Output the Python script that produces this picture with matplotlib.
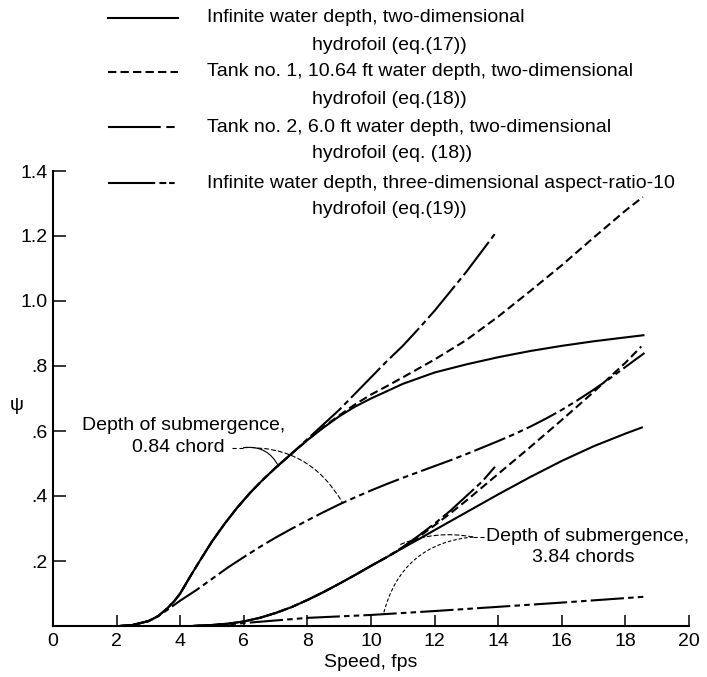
import matplotlib.pyplot as plt
from matplotlib.lines import Line2D

plt.rcParams['font.family'] = ['Liberation Sans', 'DejaVu Sans']
plt.rcParams['font.size'] = 14
plt.rcParams['lines.scale_dashes'] = False

# depth of submergence 0.84 chord
inf2d_084_x = [2.1, 2.5, 3.0, 3.3, 3.6, 3.8, 4.0, 4.3, 4.6, 5.0, 5.4, 5.8, 6.2, 6.6, 7.0, 7.5, 8.0,
               8.5, 9.0, 9.5, 10.0, 11.0, 12.0, 13.0, 14.0, 15.0, 16.0, 17.0, 18.0, 18.6]
inf2d_084_y = [0, 0.003, 0.015, 0.03, 0.055, 0.075, 0.10, 0.15, 0.198, 0.26, 0.315, 0.365, 0.41, 0.45,
               0.487, 0.53, 0.572, 0.61, 0.645, 0.675, 0.70, 0.745, 0.78, 0.805, 0.827, 0.846, 0.862,
               0.876, 0.888, 0.895]
tank1_084_x = [2.1, 2.5, 3.0, 3.3, 3.6, 3.8, 4.0, 4.3, 4.6, 5.0, 5.4, 5.8, 6.2, 6.6, 7.0, 7.5, 8.0,
               8.5, 9.0, 9.5, 10.0, 10.5, 11.0, 12.0, 13.0, 14.0, 15.0, 16.0, 17.0, 18.0, 18.55]
tank1_084_y = [0, 0.003, 0.015, 0.03, 0.055, 0.075, 0.10, 0.15, 0.198, 0.26, 0.315, 0.365, 0.41, 0.45,
               0.487, 0.53, 0.572, 0.612, 0.648, 0.682, 0.712, 0.738, 0.765, 0.82, 0.88, 0.952, 1.03,
               1.11, 1.195, 1.278, 1.32]
tank2_084_x = [2.1, 2.5, 3.0, 3.3, 3.6, 3.8, 4.0, 4.3, 4.6, 5.0, 5.4, 5.8, 6.2, 6.6, 7.0, 7.5, 8.0,
               8.5, 9.0, 9.5, 10.0, 10.5, 11.0, 11.5, 12.0, 12.5, 13.0, 13.5, 13.96]
tank2_084_y = [0, 0.003, 0.015, 0.03, 0.055, 0.075, 0.10, 0.15, 0.198, 0.26, 0.315, 0.365, 0.41, 0.45,
               0.487, 0.53, 0.575, 0.62, 0.665, 0.715, 0.765, 0.815, 0.862, 0.915, 0.97, 1.03, 1.09,
               1.155, 1.215]
ar10_084_x = [2.1, 2.5, 3.0, 3.3, 3.6, 4.0, 4.5, 5.0, 5.5, 6.0, 6.5, 7.0, 7.5, 8.0, 8.5, 9.0, 9.5,
              10.0, 10.5, 11.0, 11.5, 12.0, 12.5, 13.0, 13.5, 14.0, 14.5, 15.0, 15.5, 16.0, 16.5,
              17.0, 17.5, 18.0, 18.6]
ar10_084_y = [0, 0.003, 0.015, 0.03, 0.05, 0.078, 0.11, 0.145, 0.18, 0.212, 0.243, 0.272, 0.299,
              0.325, 0.35, 0.374, 0.396, 0.417, 0.437, 0.456, 0.474, 0.492, 0.51, 0.529, 0.549,
              0.569, 0.59, 0.613, 0.638, 0.665, 0.695, 0.727, 0.761, 0.797, 0.84]

# depth of submergence 3.84 chords
inf2d_384_x = [4.4, 5.0, 5.5, 6.0, 6.5, 7.0, 7.5, 8.0, 8.5, 9.0, 9.5, 10.0, 10.5, 11.0, 11.5, 12.0,
               13.0, 14.0, 15.0, 16.0, 17.0, 18.0, 18.55]
inf2d_384_y = [0, 0.003, 0.007, 0.014, 0.025, 0.04, 0.058, 0.08, 0.104, 0.13, 0.157, 0.185, 0.212,
               0.24, 0.267, 0.295, 0.35, 0.405, 0.458, 0.508, 0.553, 0.592, 0.612]
tank1_384_x = [4.4, 5.0, 5.5, 6.0, 6.5, 7.0, 7.5, 8.0, 8.5, 9.0, 9.5, 10.0, 10.5, 11.0, 11.5, 12.0,
               12.5, 13.0, 13.5, 14.0, 15.0, 16.0, 17.0, 18.0, 18.5]
tank1_384_y = [0, 0.003, 0.007, 0.014, 0.025, 0.04, 0.058, 0.08, 0.104, 0.13, 0.157, 0.185, 0.212,
               0.241, 0.274, 0.31, 0.347, 0.386, 0.427, 0.468, 0.55, 0.634, 0.72, 0.81, 0.86]
tank2_384_x = [4.4, 5.0, 5.5, 6.0, 6.5, 7.0, 7.5, 8.0, 8.5, 9.0, 9.5, 10.0, 10.5, 11.0, 11.5, 12.0,
               12.5, 13.0, 13.5, 13.9]
tank2_384_y = [0, 0.003, 0.007, 0.014, 0.025, 0.04, 0.058, 0.08, 0.104, 0.13, 0.157, 0.185, 0.212,
               0.243, 0.278, 0.315, 0.355, 0.40, 0.445, 0.49]
ar10_384_x = [4.4, 5.5, 6.5, 8.0, 10.0, 12.0, 14.0, 16.0, 18.6]
ar10_384_y = [0, 0.005, 0.013, 0.025, 0.034, 0.046, 0.059, 0.072, 0.09]

x_ticks = [0, 2, 4, 6, 8, 10, 12, 14, 16, 18, 20]
y_ticks = [0.2, 0.4, 0.6, 0.8, 1.0, 1.2, 1.4]
y_labels = ['.2', '.4', '.6', '.8', '1.0', '1.2', '1.4']

legend_lines = ['Infinite water depth, two-dimensional',
                'Tank no. 1, 10.64 ft water depth, two-dimensional',
                'Tank no. 2, 6.0 ft water depth, two-dimensional',
                'Infinite water depth, three-dimensional aspect-ratio-10']
legend_second = ['hydrofoil (eq.(17))', 'hydrofoil (eq.(18))',
                 'hydrofoil (eq. (18))', 'hydrofoil (eq.(19))']

solid = '-'
dashed = (0, (6, 3))
tank2_ls = (0, (30, 3, 4, 3))
ar10_ls = (0, (24, 3, 4, 3, 4, 3))
lw = 1.5

W, H = 707, 677
fig = plt.figure(figsize=(W / 100, H / 100), dpi=100)
ax = fig.add_axes([53 / W, 1 - 626 / H, 636 / W, 455 / H])

for xs, ys, ls in [(inf2d_084_x, inf2d_084_y, solid), (tank1_084_x, tank1_084_y, dashed),
                   (tank2_084_x, tank2_084_y, tank2_ls), (ar10_084_x, ar10_084_y, ar10_ls),
                   (inf2d_384_x, inf2d_384_y, solid), (tank1_384_x, tank1_384_y, dashed),
                   (tank2_384_x, tank2_384_y, tank2_ls), (ar10_384_x, ar10_384_y, ar10_ls)]:
    ax.plot(xs, ys, color='black', lw=lw, linestyle=ls, solid_capstyle='butt')

ax.set_xlim(0, 20)
ax.set_ylim(0, 1.4)
ax.set_xticks(x_ticks)
ax.set_xticklabels([str(v) for v in x_ticks])
ax.set_yticks(y_ticks)
ax.set_yticklabels(y_labels)
for s in ['top', 'right']:
    ax.spines[s].set_visible(False)
for s in ['left', 'bottom']:
    ax.spines[s].set_linewidth(1.5)
ax.tick_params(axis='x', direction='in', length=8, width=1.1, pad=5)
ax.tick_params(axis='y', direction='in', length=9, width=1.1, pad=4)
ax.set_xlabel('Speed, fps', labelpad=3)
fig.text(17 / W, 1 - 405 / H, 'ψ', ha='center', va='center')

# leader lines and notes
thin = dict(color='black', lw=0.8)
ax.plot([5.63, 6.0], [0.549, 0.549], linestyle=(0, (3, 2)), **thin)
ax.annotate('', xy=(7.1, 0.49), xytext=(6.0, 0.549),
            arrowprops=dict(arrowstyle='-', connectionstyle='arc3,rad=-0.35',
                            shrinkA=0, shrinkB=0, **thin))
ax.annotate('', xy=(9.1, 0.38), xytext=(6.0, 0.549),
            arrowprops=dict(arrowstyle='-', connectionstyle='arc3,rad=-0.3',
                            shrinkA=0, shrinkB=0, linestyle=(0, (3, 2)), **thin))
ax.text(4.12, 0.618, 'Depth of submergence,', ha='center', va='center')
ax.text(3.93, 0.548, '0.84 chord', ha='center', va='center')

ax.plot([13.2, 13.62], [0.274, 0.274], linestyle=(0, (3, 2)), **thin)
ax.annotate('', xy=(10.9, 0.25), xytext=(13.2, 0.274),
            arrowprops=dict(arrowstyle='-', connectionstyle='arc3,rad=0.15',
                            shrinkA=0, shrinkB=0, linestyle=(0, (3, 2)), **thin))
ax.annotate('', xy=(10.4, 0.04), xytext=(13.2, 0.274),
            arrowprops=dict(arrowstyle='-', connectionstyle='arc3,rad=0.35',
                            shrinkA=0, shrinkB=0, linestyle=(0, (2, 2)), **thin))
ax.text(16.8, 0.274, 'Depth of submergence,', ha='center', va='center')
ax.text(16.67, 0.212, '3.84 chords', ha='center', va='center')

# legend drawn by hand
key_styles = [solid, dashed, (0, (38, 4, 6, 100)), (0, (34, 3, 5, 2, 4, 100))]
key_y = [18, 72, 127, 183]
for ls, yk, t1, t2 in zip(key_styles, key_y, legend_lines, legend_second):
    fig.add_artist(Line2D([108 / W, 178 / W], [1 - yk / H] * 2, color='black',
                          lw=lw, linestyle=ls, transform=fig.transFigure))
    fig.text(207 / W, 1 - yk / H, t1, va='center')
    fig.text(312 / W, 1 - (yk + 27) / H, t2, va='center')

fig.savefig('out.png', dpi=100)
